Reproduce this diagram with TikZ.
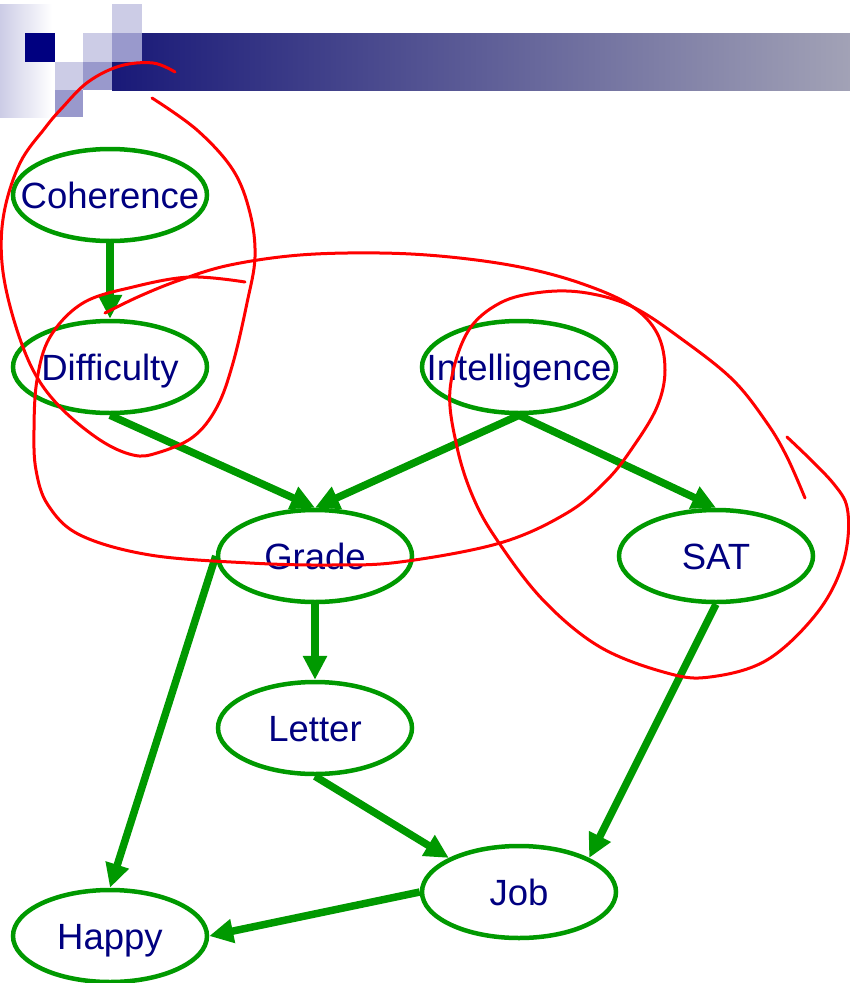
\documentclass[tikz,border=0pt]{standalone}
\usepackage{fontspec}
\setmainfont{Liberation Sans}
\usetikzlibrary{shapes,arrows.meta}
\definecolor{bngreen}{RGB}{0,153,0}
\definecolor{bnnavy}{RGB}{0,0,128}
\definecolor{barleft}{RGB}{25,25,120}
\definecolor{barright}{RGB}{162,162,182}
\definecolor{sqlight}{RGB}{204,204,230}
\definecolor{sqmid}{RGB}{153,153,204}
\tikzstyle{var} = [ellipse, draw=bngreen, line width=4.5pt,
    minimum width=194pt, minimum height=92pt, inner sep=0pt,
    text=bnnavy, font=\fontsize{36.5}{40}\selectfont, text height=26pt, text depth=0pt]
\tikzstyle{line} = [draw=bngreen, line width=7.5pt, -{Triangle[length=24pt,width=23pt]}]
\tikzstyle{scribble} = [draw=red, line width=3pt, line cap=round]

\begin{document}
\begin{tikzpicture}[x=1pt, y=-1pt, node distance=172pt]
\useasboundingbox (0,0) rectangle (850,983);

%% Slide header
\shade [left color=sqlight, right color=white] (0,4) rectangle (52,117);
\shade [left color=barleft, right color=barright] (112,33) rectangle (850,90);
\fill [bnnavy] (25,33) rectangle (55,62);
\fill [sqlight] (55,62) rectangle (83,90);
\fill [sqmid] (55,90) rectangle (83,117);
\fill [sqlight] (83,33) rectangle (112,62);
\fill [sqmid] (83,62) rectangle (112,90);
\fill [sqlight] (112,4) rectangle (142,33);
\fill [sqmid] (112,33) rectangle (142,62);

%% Place nodes
\node [var] (coherence) at (110,195) {\makebox[0pt]{Coherence}};
\node [var, below of=coherence] (difficulty) {\makebox[0pt]{Difficulty}};
\node [var, right of=difficulty, node distance=409pt] (intelligence) {\makebox[0pt]{Intelligence}};
\node [var] (grade) at (315,556) {\makebox[0pt]{Grade}};
\node [var, right of=grade, node distance=401pt] (sat) {\makebox[0pt]{SAT}};
\node [var, below of=grade] (letter) {\makebox[0pt]{Letter}};
\node [var] (job) at (519,892) {\makebox[0pt]{Job}};
\node [var] (happy) at (110,936) {\makebox[0pt]{Happy}};

%% Draw lines between nodes
\path [line] (coherence) -- (difficulty);
\path [line] (difficulty.south) -- (grade.north);
\path [line] (intelligence.south) -- (grade.north);
\path [line] (intelligence.south) -- (sat.north);
\path [line] (grade.west) -- (happy.north);
\path [line] (grade) -- (letter);
\path [line] (letter.south) -- (job.north west);
\path [line] (sat.south) -- (job.north east);
\path [line] (job.west) -- (happy.east);

%% Hand drawn loops
\draw [scribble] plot [smooth, tension=0.6] coordinates {(175,72) (153,63) (120,66) (88,82)
    (62,108) (45,128) (20,163) (4,213) (2,263) (13,317) (33,370) (60,407) (100,440)
    (133,455) (157,453) (193,437) (217,407) (233,363) (247,303) (255,257) (250,213)
    (233,170) (197,130) (152,98)};
\draw [scribble] plot [smooth, tension=0.6] coordinates {(245,282) (190,277) (133,287)
    (83,303) (50,337) (37,380) (34,430) (36,470) (48,505) (80,535) (150,555) (250,563)
    (330,565) (400,562) (500,543) (567,513) (607,480) (633,447) (657,407) (665,370)
    (657,333) (630,305) (580,283) (520,267) (450,257) (380,253) (300,255) (230,265)
    (180,280) (140,296) (105,313)};
\draw [scribble] plot [smooth, tension=0.6] coordinates {(787,437) (833,483) (848,513)
    (843,563) (817,613) (767,660) (710,677) (667,673) (600,647) (543,600) (497,540)
    (473,497) (457,447) (450,390) (467,333) (500,303) (543,292) (587,293) (633,307)
    (683,340) (733,380) (767,423) (787,457) (805,498)};
\end{tikzpicture}
\end{document}
